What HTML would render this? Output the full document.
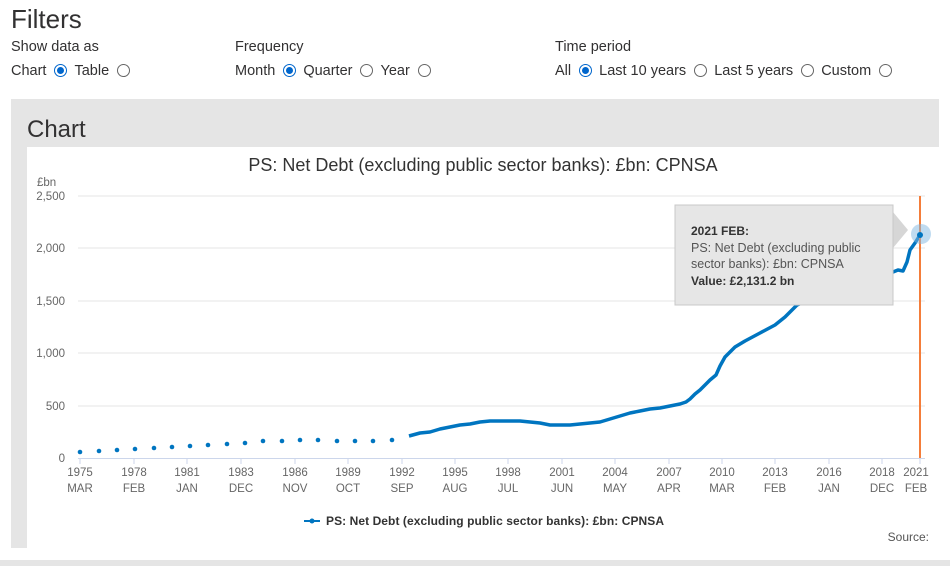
<!DOCTYPE html>
<html><head><meta charset="utf-8"><style>
body{margin:0;width:950px;height:566px;background:#fff;font-family:"Liberation Sans",sans-serif;color:#323132;position:relative;overflow:hidden}
.a{position:absolute;white-space:nowrap}
.r{display:inline-block;width:13px;height:13px;border:1px solid #666;border-radius:50%;vertical-align:-2px;margin:0 7px 0 8px;box-sizing:border-box;position:relative}
.r.on{border-color:#0066cc}
.r.on:after{content:"";position:absolute;left:2px;top:2px;width:7px;height:7px;border-radius:50%;background:#0066cc}
.f{font-size:14.5px}
</style></head><body>
<div class="a" style="left:11px;top:4px;font-size:26px">Filters</div>
<div class="a f" style="left:11px;top:39px">Show data as</div>
<div class="a f" style="left:11px;top:63px">Chart<span class="r on"></span>Table<span class="r"></span></div>
<div class="a f" style="left:235px;top:39px">Frequency</div>
<div class="a f" style="left:235px;top:63px">Month<span class="r on"></span>Quarter<span class="r"></span>Year<span class="r"></span></div>
<div class="a f" style="left:555px;top:39px">Time period</div>
<div class="a f" style="left:555px;top:63px">All<span class="r on"></span>Last 10 years<span class="r"></span>Last 5 years<span class="r"></span>Custom<span class="r"></span></div>
<div class="a" style="left:11px;top:99px;width:928px;height:449px;background:#e5e5e5"></div>
<div class="a" style="left:0;top:560px;width:950px;height:6px;background:#e5e5e5"></div>
<div class="a" style="left:27px;top:116px;font-size:24px">Chart</div>
<svg class="a" style="left:27px;top:147px" width="912" height="401" viewBox="27 147 912 401" font-family="Liberation Sans, sans-serif">
<rect x="27" y="147" width="912" height="401" fill="#fff"/>
<text x="483" y="171" font-size="18" text-anchor="middle" fill="#333">PS: Net Debt (excluding public sector banks): £bn: CPNSA</text>
<text x="37" y="186" font-size="11.5" fill="#666">£bn</text>
<g stroke="#e6e6e6" stroke-width="1">
<line x1="78" y1="196" x2="925" y2="196"/><line x1="78" y1="248" x2="925" y2="248"/><line x1="78" y1="301" x2="925" y2="301"/><line x1="78" y1="353" x2="925" y2="353"/><line x1="78" y1="406" x2="925" y2="406"/>
</g>
<line x1="78" y1="458.5" x2="925" y2="458.5" stroke="#ccd6eb"/>
<g font-size="11.5" fill="#666" text-anchor="end">
<text x="65" y="200">2,500</text><text x="65" y="252">2,000</text><text x="65" y="305">1,500</text><text x="65" y="357">1,000</text><text x="65" y="410">500</text><text x="65" y="462">0</text>
</g>
<g stroke="#ccd6eb"><line x1="80" y1="458" x2="80" y2="464"/><line x1="134" y1="458" x2="134" y2="464"/><line x1="187" y1="458" x2="187" y2="464"/><line x1="241" y1="458" x2="241" y2="464"/><line x1="295" y1="458" x2="295" y2="464"/><line x1="348" y1="458" x2="348" y2="464"/><line x1="402" y1="458" x2="402" y2="464"/><line x1="455" y1="458" x2="455" y2="464"/><line x1="508" y1="458" x2="508" y2="464"/><line x1="562" y1="458" x2="562" y2="464"/><line x1="615" y1="458" x2="615" y2="464"/><line x1="669" y1="458" x2="669" y2="464"/><line x1="722" y1="458" x2="722" y2="464"/><line x1="775" y1="458" x2="775" y2="464"/><line x1="829" y1="458" x2="829" y2="464"/><line x1="882" y1="458" x2="882" y2="464"/><line x1="920" y1="458" x2="920" y2="464"/></g>
<g font-size="11.5" fill="#666" text-anchor="middle">
<text x="80" y="476">1975</text><text x="80" y="492">MAR</text>
<text x="134" y="476">1978</text><text x="134" y="492">FEB</text>
<text x="187" y="476">1981</text><text x="187" y="492">JAN</text>
<text x="241" y="476">1983</text><text x="241" y="492">DEC</text>
<text x="295" y="476">1986</text><text x="295" y="492">NOV</text>
<text x="348" y="476">1989</text><text x="348" y="492">OCT</text>
<text x="402" y="476">1992</text><text x="402" y="492">SEP</text>
<text x="455" y="476">1995</text><text x="455" y="492">AUG</text>
<text x="508" y="476">1998</text><text x="508" y="492">JUL</text>
<text x="562" y="476">2001</text><text x="562" y="492">JUN</text>
<text x="615" y="476">2004</text><text x="615" y="492">MAY</text>
<text x="669" y="476">2007</text><text x="669" y="492">APR</text>
<text x="722" y="476">2010</text><text x="722" y="492">MAR</text>
<text x="775" y="476">2013</text><text x="775" y="492">FEB</text>
<text x="829" y="476">2016</text><text x="829" y="492">JAN</text>
<text x="882" y="476">2018</text><text x="882" y="492">DEC</text>
<text x="916" y="476">2021</text><text x="916" y="492">FEB</text>
</g>
<g fill="#0075c0">
<circle cx="80" cy="452" r="2.3"/><circle cx="99" cy="451" r="2.3"/><circle cx="117" cy="450" r="2.3"/><circle cx="135" cy="449" r="2.3"/><circle cx="154" cy="448" r="2.3"/><circle cx="172" cy="447" r="2.3"/><circle cx="190" cy="446" r="2.3"/><circle cx="208" cy="445" r="2.3"/><circle cx="227" cy="444" r="2.3"/><circle cx="245" cy="443" r="2.3"/><circle cx="263" cy="441" r="2.3"/><circle cx="282" cy="441" r="2.3"/><circle cx="300" cy="440" r="2.3"/><circle cx="318" cy="440" r="2.3"/><circle cx="337" cy="441" r="2.3"/><circle cx="355" cy="441" r="2.3"/><circle cx="373" cy="441" r="2.3"/><circle cx="392" cy="440" r="2.3"/>
</g>
<polyline fill="none" stroke="#0075c0" stroke-width="3.5" stroke-linejoin="round" points="409,436 420,433 430,432 440,429 450,427 460,425 470,424 480,422 490,421 500,421 510,421 520,421 530,422 540,423 550,425 560,425 570,425 580,424 590,423 600,422 610,419 620,416 630,413 640,411 650,409 660,408 670,406 680,404 686,402 690,399 695,394 700,390 710,380 716,375 720,366 725,357 735,347 745,341 760,333 775,325 785,317 797,305 815,297 835,288 855,281 875,276 893,272 898,270 903,271 907,262 910,250 915,243 920,235"/>
<line x1="920" y1="196" x2="920" y2="458" stroke="#f47d3a" stroke-width="2"/>
<circle cx="921" cy="234" r="10" fill="#7fb8e2" opacity="0.5"/>
<circle cx="920" cy="235" r="3" fill="#0075c0"/>
<path d="M893,212 L908,230 L893,248 Z" fill="#d6d6d6"/>
<rect x="675" y="205" width="218" height="100" fill="#e6e6e6" stroke="#c8c8c8"/>
<text x="691" y="235" font-size="12" font-weight="bold" fill="#333">2021 FEB:</text>
<text x="691" y="252" font-size="12.5" fill="#555">PS: Net Debt (excluding public</text>
<text x="691" y="268" font-size="12.5" fill="#555">sector banks): £bn: CPNSA</text>
<text x="691" y="285" font-size="12" font-weight="bold" fill="#333">Value: £2,131.2 bn</text>
<line x1="304" y1="521" x2="320" y2="521" stroke="#0075c0" stroke-width="2"/>
<circle cx="312" cy="521" r="2.5" fill="#0075c0"/>
<text x="326" y="525" font-size="12" font-weight="bold" fill="#333" textLength="338">PS: Net Debt (excluding public sector banks): £bn: CPNSA</text>
<text x="929" y="541" font-size="12" fill="#555" text-anchor="end">Source:</text>
</svg>
</body></html>
